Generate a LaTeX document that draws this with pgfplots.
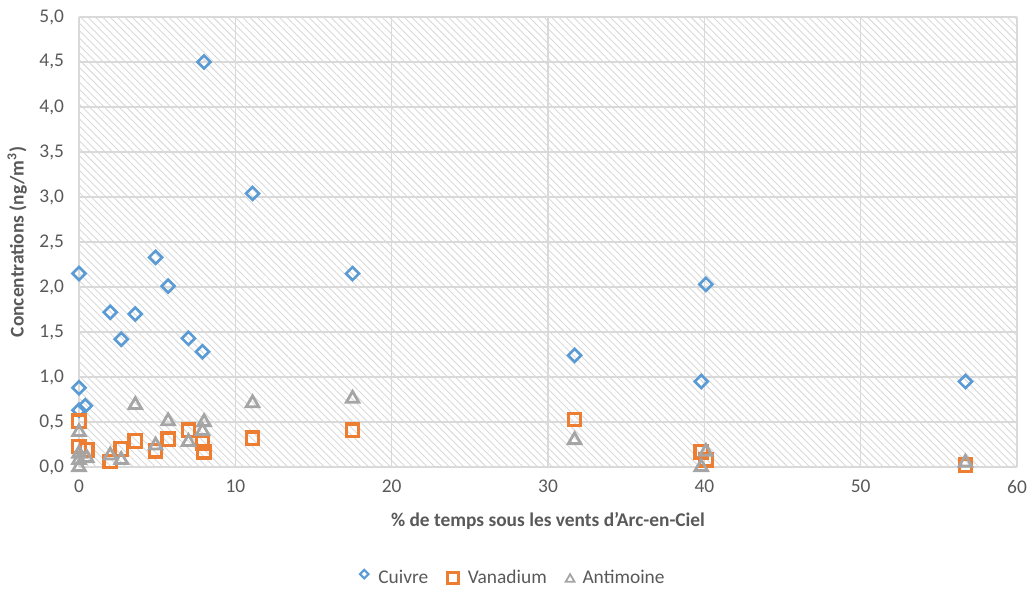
\documentclass[border=0pt]{standalone}
\usepackage{fontspec}
\setmainfont{Carlito}
\usepackage{pgfplots}
\pgfplotsset{compat=1.18}
\usetikzlibrary{patterns.meta}
\definecolor{cu}{HTML}{5B9BD5}
\definecolor{va}{HTML}{ED7D31}
\definecolor{sb}{HTML}{A5A5A5}
\definecolor{txt}{HTML}{595959}
\definecolor{gridc}{HTML}{D9D9D9}
\begin{document}
\begin{tikzpicture}
\useasboundingbox (-39.5pt,-62pt) rectangle (474pt,233.5pt);
\begin{axis}[
  at={(0,0)}, anchor=south west,
  scale only axis, width=469pt, height=225pt,
  xmin=0, xmax=60, ymin=0, ymax=5,
  xtick={0,10,...,60}, ytick={0,0.5,...,5},
  grid=major, major grid style={gridc, line width=0.8pt},
  axis line style={draw=none},
  major tick length=0pt,
  clip=false,
  axis background/.style={pattern={Lines[angle=135,distance=2.6pt,line width=0.45pt]}, pattern color=black!15},
  font=\fontsize{9.7}{11}\selectfont,
  tick label style={txt, font=\fontsize{9.7}{11}\selectfont},
  /pgf/number format/assume math mode=true,
  yticklabel style={/pgf/number format/use comma, /pgf/number format/fixed, /pgf/number format/fixed zerofill, /pgf/number format/precision=1, xshift=-4pt},
  xticklabel style={/pgf/number format/fixed, /pgf/number format/precision=0, yshift=-3pt},
  xlabel={\bfseries \% de temps sous les vents d'Arc-en-Ciel},
  ylabel={\bfseries Concentrations (ng/m\textsuperscript{3})},
  label style={txt, font=\fontsize{9.7}{11}\selectfont\bfseries},
  xlabel style={at={(axis description cs:0.5,-0.12)}, anchor=center},
  ylabel style={at={(axis description cs:-0.066,0.5)}, anchor=center},
  legend columns=3,
  legend style={at={(axis description cs:0.4635,-0.247)}, anchor=center, draw=none, fill=none,
    font=\fontsize{9.7}{11}\selectfont, text=txt,
    /tikz/every even column/.append style={column sep=7pt}},
  legend cell align=left,
]
\addplot[only marks, mark=square, mark size=2.3pt, mark options={rotate=45, draw=cu, line width=1.3pt, fill=white},
  legend image code/.code={\draw[cu, line width=1.1pt, fill=white, rotate=45] (0.1cm,0) ++(-1.5pt,-1.5pt) rectangle ++(3pt,3pt); \path (0.1cm,0) ++(4pt,0);}] coordinates {
(0,2.15) (0,0.88) (0,0.63) (0.4,0.68) (2.0,1.72) (2.7,1.42) (3.6,1.70) (4.9,2.33)
(5.7,2.01) (7.0,1.43) (7.9,1.28) (8.0,4.50) (11.1,3.04) (17.5,2.15) (31.7,1.24)
(39.8,0.95) (40.1,2.03) (56.7,0.95)};
\addlegendentry{Cuivre}
\addplot[only marks, mark=square, mark size=3.1pt, mark options={draw=va, line width=1.6pt, fill=none},
  legend image code/.code={\draw[va, line width=1.5pt] (0.1cm,0) ++(-2.8pt,-2.8pt) rectangle ++(5.6pt,5.6pt); \path (0.1cm,0) ++(5pt,0);}] coordinates {
(0,0.51) (0,0.23) (0.5,0.19) (2.0,0.06) (2.7,0.20) (3.6,0.29) (4.9,0.18) (5.7,0.31)
(7.0,0.41) (7.9,0.27) (8.0,0.17) (11.1,0.32) (17.5,0.41) (31.7,0.53) (39.8,0.17)
(40.1,0.08) (56.7,0.02)};
\addlegendentry{Vanadium}
\addplot[only marks, mark=triangle, mark size=3.6pt, mark options={draw=sb, line width=1.4pt, fill=none},
  legend image code/.code={\draw[sb, line width=0.9pt, line join=miter] (0.1cm,0) ++(-2.2pt,-1.8pt) -- ++(4.4pt,0) -- ++(-2.2pt,3.8pt) -- cycle; \path (0.1cm,0) ++(4pt,0);}] coordinates {
(0,0.39) (0,0.15) (0,0.08) (0,0.00) (0.5,0.10) (2.0,0.13) (2.7,0.08) (3.6,0.69)
(4.9,0.24) (5.7,0.51) (7.0,0.28) (7.9,0.40) (8.0,0.50) (11.1,0.71) (17.5,0.76)
(31.7,0.30) (39.8,0.00) (40.1,0.17) (56.7,0.05)};
\addlegendentry{Antimoine}
\end{axis}
\end{tikzpicture}
\end{document}
